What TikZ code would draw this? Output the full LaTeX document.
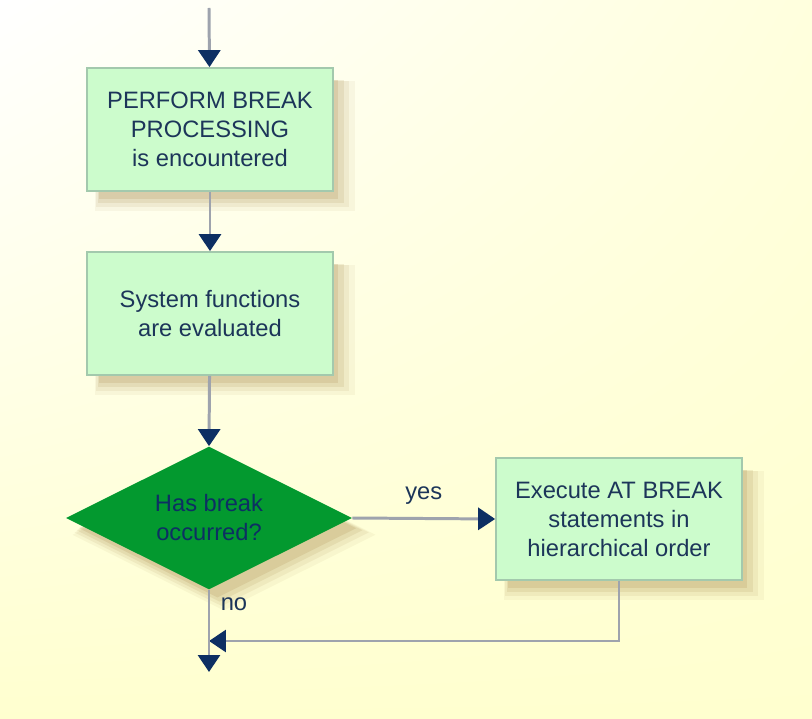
\documentclass[tikz,border=0pt]{standalone}
\usepackage{fontspec}
\setmainfont{Liberation Sans}
\usetikzlibrary{shapes.geometric, arrows.meta, positioning, shadows, shadings}
\definecolor{navyline}{HTML}{0d2f63}
\definecolor{greyline}{HTML}{9ea3ad}
\definecolor{boxgreen}{HTML}{ccfccc}
\definecolor{boxedge}{HTML}{a3c9ad}
\definecolor{darkgreen}{HTML}{03992f}
\definecolor{textnavy}{HTML}{1c3559}
\definecolor{shadowbrown}{HTML}{a8884a}
\definecolor{paleyellow}{HTML}{ffffcf}

\tikzset{
	softshadow/.style={
		drop shadow={shadow xshift=8pt, shadow yshift=-9pt, opacity=.07, fill=shadowbrown, shadow scale=1.06},
		drop shadow={shadow xshift=7pt, shadow yshift=-8pt, opacity=.10, fill=shadowbrown, shadow scale=1.03},
		drop shadow={shadow xshift=6pt, shadow yshift=-7pt, opacity=.14, fill=shadowbrown},
		drop shadow={shadow xshift=5pt, shadow yshift=-6pt, opacity=.18, fill=shadowbrown, shadow scale=.97}},
	procbox/.style={draw=boxedge, line width=1pt, fill=boxgreen, softshadow,
		minimum width=4.92cm, minimum height=2.46cm, align=center,
		text=textnavy, font=\fontsize{13.5}{16.5}\selectfont},
	decision/.style={diamond, shape aspect=2, fill=darkgreen, softshadow, inner sep=0pt,
		minimum width=5.72cm, minimum height=2.86cm, align=center,
		text=navyline, font=\fontsize{13.5}{16.5}\selectfont},
	flow/.style={draw=greyline, line width=1.7pt,
		-{Triangle[length=0.34cm, width=0.44cm, color=navyline]}},
	lbl/.style={text=textnavy, font=\fontsize{13.5}{16.5}\selectfont}
}

\begin{document}
\begin{tikzpicture}[x=0.02cm, y=-0.02cm]
	\shade[upper left=white, upper right=paleyellow!70!white, lower left=paleyellow, lower right=paleyellow]
		(0,0) rectangle (812,719);
	\useasboundingbox (0,0) rectangle (812,719);

	\coordinate (start) at (209,8);
	\node[procbox] (perform) at (210,129.5) {PERFORM BREAK\\PROCESSING\\is encountered};
	\node[procbox] (evaluate) at (210,313.5) {System functions\\are evaluated};
	\node[decision] (check) at (209,518) {Has break\\occurred?};
	\node[procbox, minimum height=2.44cm] (execute) at (619,519) {Execute AT BREAK\\statements in\\hierarchical order};
	\coordinate (join) at (209,641);
	\coordinate (finish) at (209,672);

	\draw[flow] (start) -- (perform);
	\draw[flow] (perform) -- (evaluate);
	\draw[flow] (evaluate) -- (check.north);
	\draw[flow] (check.east) -- node[lbl, above=4pt] {yes} (execute.west);
	\draw[flow] (execute.south) |- (join);
	\draw[flow] (check.south) -- (finish);
	\node[lbl] (nolabel) at (234,604) {no};
\end{tikzpicture}
\end{document}
